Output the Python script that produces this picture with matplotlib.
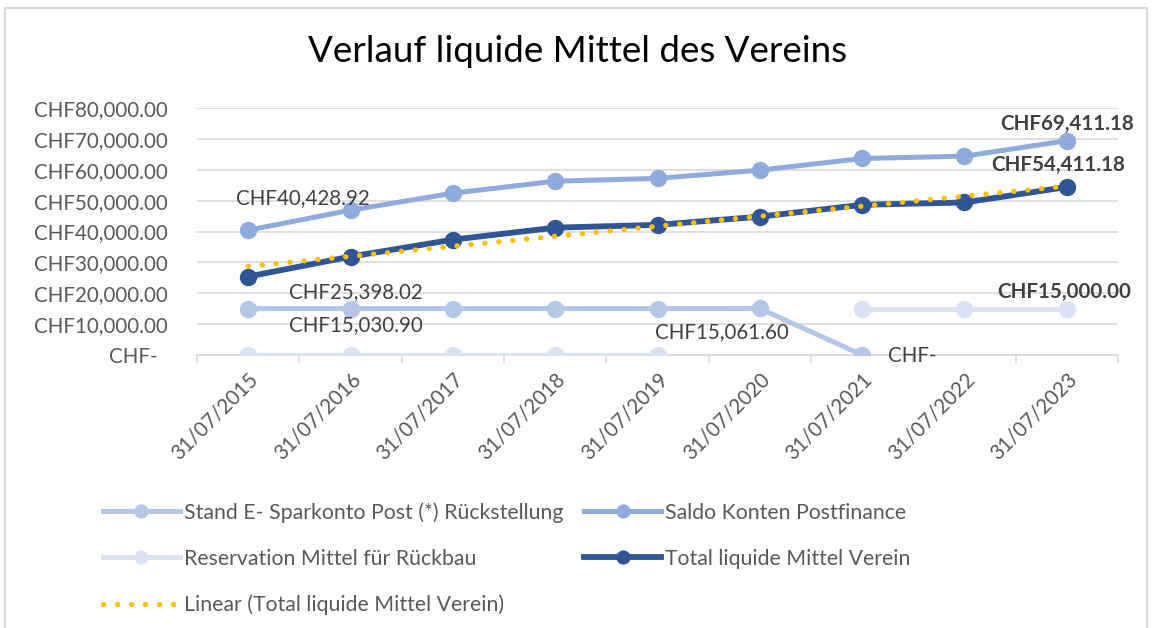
import numpy as np
import matplotlib
matplotlib.use('Agg')
import matplotlib.pyplot as plt
from matplotlib.patches import Rectangle

plt.rcParams['font.family'] = ['Lato', 'DejaVu Sans']

dates = ['31/07/2015', '31/07/2016', '31/07/2017', '31/07/2018', '31/07/2019',
         '31/07/2020', '31/07/2021', '31/07/2022', '31/07/2023']
sparkonto = [15030.90, 15036.0, 15042.0, 15048.0, 15054.0, 15061.60, 0.0, np.nan, np.nan]
saldo = [40428.92, 46900.0, 52400.0, 56300.0, 57200.0, 59870.0, 63650.0, 64400.0, 69411.18]
reservation = [0.0, 0.0, 0.0, 0.0, 0.0, np.nan, 15000.0, 15000.0, 15000.0]
total = [25398.02, 31864.0, 37358.0, 41252.0, 42146.0, 44808.0, 48650.0, 49400.0, 54411.18]

C_SPAR, C_SALDO, C_RES, C_TOT, C_TREND = '#b4c7e7', '#8faadc', '#dae3f3', '#2f5597', '#ffc000'
TXT = '#595959'
FS = 14.8

fig = plt.figure(figsize=(11.52, 6.28), dpi=100)
ax = fig.add_axes([197/1152, 1-355/628, (1118-197)/1152, (355-108)/628])

x = np.arange(len(dates))
# linear trend of total (as the Excel trendline)
k, d = np.polyfit(x, total, 1)
trend = k * x + d

l1, = ax.plot(x, sparkonto, color=C_SPAR, lw=3.6, marker='o', ms=11.5, zorder=3,
              label='Stand E- Sparkonto Post (*) Rückstellung')
l2, = ax.plot(x, saldo, color=C_SALDO, lw=3.6, marker='o', ms=11.5, zorder=3,
              label='Saldo Konten Postfinance')
l3, = ax.plot(x, reservation, color=C_RES, lw=3.6, marker='o', ms=11.5, zorder=3,
              label='Reservation Mittel für Rückbau')
l4, = ax.plot(x, total, color=C_TOT, lw=4.2, marker='o', ms=11.5, zorder=4,
              label='Total liquide Mittel Verein')
l5, = ax.plot(x, trend, color=C_TREND, lw=3.8, ls=(0, (0.05, 2.6)), dash_capstyle='round',
              zorder=5, label='Linear (Total liquide Mittel Verein)')

ax.set_xlim(-0.5, len(dates) - 0.5)
ax.set_ylim(0, 80000)
ax.set_yticks(np.arange(0, 80001, 10000))
ax.set_yticklabels(['CHF-  ' if v == 0 else f'CHF{v:,.2f}' for v in np.arange(0, 80001, 10000)])
ax.yaxis.grid(True, color='#d9d9d9', lw=1.2)
ax.set_axisbelow(True)
ax.tick_params(axis='y', length=0, pad=21, labelsize=FS, labelcolor=TXT)

ax.set_xticks(x)
ax.set_xticklabels(dates, rotation=45, ha='right', rotation_mode='anchor')
ax.set_xticks(np.arange(-0.5, len(dates)), minor=True)
ax.tick_params(axis='x', which='major', length=0, pad=10, labelsize=FS, labelcolor=TXT)
ax.tick_params(axis='x', which='minor', length=6, color='#d9d9d9', width=1.2)
for s in ['top', 'right', 'left']:
    ax.spines[s].set_visible(False)
ax.spines['bottom'].set_color('#d9d9d9')
ax.spines['bottom'].set_linewidth(1.2)

def lab(i, v, dx, dy, bold=False):
    ax.annotate(f'CHF{v:,.2f}' if v else 'CHF-', (i, v), xytext=(dx, -dy),
                textcoords='offset pixels', ha='center', va='center', fontsize=FS,
                color='#404040', fontweight='bold' if bold else 'normal', zorder=6)

lab(0, saldo[0], 55, -32)
lab(0, total[0], 108, 16)
lab(0, sparkonto[0], 108, 17)
lab(5, sparkonto[5], -38, 24)
lab(6, sparkonto[6], 50, 1)
lab(8, saldo[8], 0, -17, True)
lab(8, total[8], -9, -22, True)
lab(8, reservation[8], -3, -17, True)

fig.text(577/1152, 1-52/628, 'Verlauf liquide Mittel des Vereins', ha='center', va='center',
         fontsize=26.5, color='#000000')

fig.legend(handles=[l1, l3, l5, l2, l4], ncol=2, loc='upper left',
           bbox_to_anchor=(103/1152, 1-502/628), frameon=False, fontsize=15.3,
           labelcolor=TXT, handlelength=3.6, handletextpad=0.2, columnspacing=1.0,
           labelspacing=1.22, borderaxespad=0, borderpad=0, markerscale=0.8)

fig.patches.append(Rectangle((5/1152, -0.1), 1142/1152, 1.1-8/628, transform=fig.transFigure,
                             fill=False, edgecolor='#d9d9d9', lw=1.5))

fig.savefig('out.png', dpi=100)
